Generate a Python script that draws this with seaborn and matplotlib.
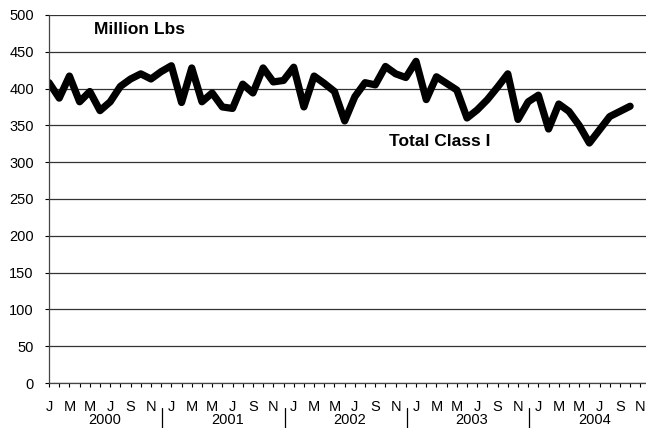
import matplotlib
matplotlib.use("Agg")
import matplotlib.pyplot as plt
import matplotlib.transforms as mtransforms
import numpy as np
import pandas as pd
import seaborn as sns

# monthly total Class I, Jan 2000 .. Oct 2004 (million lbs)
values = [
  408, 387, 417, 382, 396, 370, 382, 403, 413, 420, 413, 423,
  431, 381, 428, 382, 394, 375, 373, 406, 394, 428, 409, 411,
  429, 375, 417, 407, 396, 356, 389, 408, 405, 430, 420, 415,
  437, 385, 416, 407, 398, 360, 371, 385, 402, 420, 358, 382,
  391, 345, 379, 369, 350, 326, 344, 362, 369, 376,
]
month_letters = ["J", "F", "M", "A", "M", "J", "J", "A", "S", "O", "N", "D"]
years = ["2000", "2001", "2002", "2003", "2004"]
y_ticks = list(range(0, 501, 50))


def main() -> None:
  sns.set_style("white")
  plt.rcParams["font.family"] = ["Liberation Sans", "DejaVu Sans"]
  plt.rcParams["text.color"] = "black"

  df = pd.DataFrame({"month": np.arange(len(values)), "lbs": values})

  fig = plt.figure(figsize=(6.46, 4.28), dpi=100)
  ax = fig.add_axes([0.0759, 0.1051, 0.924, 0.86])

  sns.lineplot(data=df, x="month", y="lbs", ax=ax, color="black", linewidth=5.2,
               solid_joinstyle="round", solid_capstyle="round")

  n_months = 12 * len(years) - 1
  ax.set_xlim(0, n_months - 0.45)
  ax.set_ylim(0, 500)
  ax.set_yticks(y_ticks)
  ax.set_yticklabels([str(v) for v in y_ticks], fontsize=10.5)

  major = np.arange(0, n_months, 2)
  ax.set_xticks(major)
  ax.set_xticklabels([month_letters[m % 12] for m in major], fontsize=10.5)
  ax.set_xticks(np.arange(1, n_months, 2), minor=True)
  ax.tick_params(axis="x", which="both", direction="out", length=3, width=0.8,
                 pad=9, bottom=True, colors="black")
  ax.tick_params(axis="y", direction="out", length=3, width=0.8, pad=8,
                 left=True, colors="black")
  ax.set_xlabel("")
  ax.set_ylabel("")

  ax.grid(axis="y", color="#333333", linewidth=0.9)
  ax.grid(axis="x", visible=False)
  ax.spines["right"].set_visible(False)
  ax.spines["top"].set_visible(False)
  ax.spines["left"].set_color("#444444")
  ax.spines["bottom"].set_color("#444444")
  ax.spines["left"].set_linewidth(0.9)
  ax.spines["bottom"].set_linewidth(0.9)

  trans = mtransforms.blended_transform_factory(ax.transData, ax.transAxes)
  for k, year in enumerate(years):
    ax.text(12 * k + 5.5, -0.1, year, transform=trans, ha="center", va="center",
            fontsize=10.5, color="black")
    if k > 0:
      x = 12 * k - 0.9
      ax.plot([x, x], [-0.068, -0.125], transform=trans, color="black",
              linewidth=0.9, clip_on=False)

  ax.text(4.4, 0.96, "Million Lbs", transform=trans, fontsize=12.5,
          fontweight="bold", va="center", ha="left", color="black")
  ax.text(33.3, 0.655, "Total Class I", transform=trans, fontsize=12.5,
          fontweight="bold", va="center", ha="left", color="black")

  fig.savefig("out.png", dpi=100)
  plt.close(fig)


main()
